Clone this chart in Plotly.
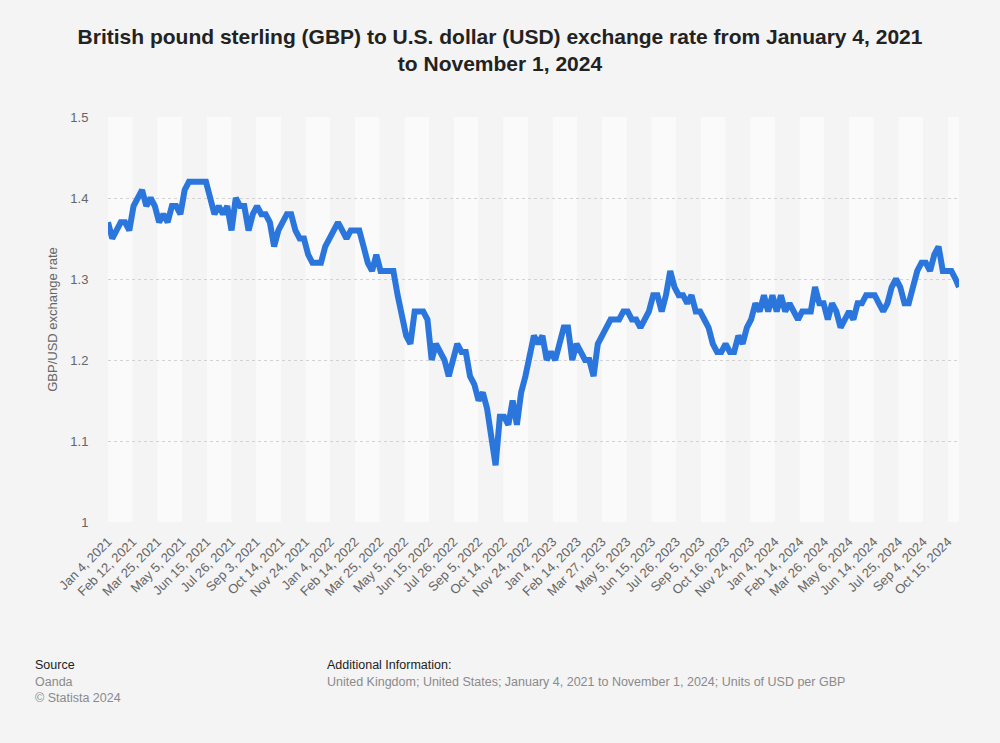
import pandas as pd
import plotly.graph_objects as go

# Weekly readings (every 5th weekday from Jan 4, 2021) plus the final day, Nov 1, 2024
weekly_rates = [
    1.37, 1.35, 1.36, 1.37, 1.37, 1.36, 1.39, 1.40, 1.41, 1.39,
    1.40, 1.39, 1.37, 1.38, 1.37, 1.39, 1.39, 1.38, 1.41, 1.42,
    1.42, 1.42, 1.42, 1.42, 1.40, 1.38, 1.39, 1.38, 1.39, 1.36,
    1.40, 1.39, 1.39, 1.36, 1.38, 1.39, 1.38, 1.38, 1.37, 1.34,
    1.36, 1.37, 1.38, 1.38, 1.36, 1.35, 1.35, 1.33, 1.32, 1.32,
    1.32, 1.34, 1.35, 1.36, 1.37, 1.36, 1.35, 1.36, 1.36, 1.36,
    1.34, 1.32, 1.31, 1.33, 1.31, 1.31, 1.31, 1.31, 1.28, 1.25,
    1.23, 1.22, 1.26, 1.26, 1.26, 1.25, 1.20, 1.22, 1.21, 1.20,
    1.18, 1.20, 1.22, 1.21, 1.21, 1.18, 1.17, 1.15, 1.16, 1.14,
    1.10, 1.07, 1.13, 1.13, 1.12, 1.15, 1.12, 1.16, 1.18, 1.21,
    1.23, 1.22, 1.23, 1.20, 1.21, 1.20, 1.22, 1.24, 1.24, 1.20,
    1.22, 1.21, 1.20, 1.20, 1.18, 1.22, 1.23, 1.24, 1.25, 1.25,
    1.25, 1.26, 1.26, 1.25, 1.25, 1.24, 1.25, 1.26, 1.28, 1.28,
    1.26, 1.28, 1.31, 1.29, 1.28, 1.28, 1.27, 1.28, 1.26, 1.26,
    1.25, 1.24, 1.22, 1.21, 1.21, 1.22, 1.21, 1.21, 1.23, 1.22,
    1.24, 1.25, 1.27, 1.26, 1.28, 1.26, 1.28, 1.26, 1.28, 1.26,
    1.27, 1.26, 1.25, 1.26, 1.26, 1.26, 1.29, 1.27, 1.27, 1.25,
    1.27, 1.26, 1.24, 1.25, 1.26, 1.25, 1.27, 1.27, 1.28, 1.28,
    1.28, 1.27, 1.26, 1.27, 1.29, 1.30, 1.29, 1.27, 1.27, 1.29,
    1.31, 1.32, 1.32, 1.31, 1.33, 1.34, 1.31, 1.31, 1.31, 1.30,
]
final_rate = 1.29

all_days = pd.bdate_range("2021-01-04", "2024-11-01")
dates = list(all_days[::5]) + [all_days[-1]]
rates = weekly_rates + [final_rate]

tick_dates = [
    "2021-01-04", "2021-02-12", "2021-03-25", "2021-05-05", "2021-06-15", "2021-07-26",
    "2021-09-03", "2021-10-14", "2021-11-24", "2022-01-04", "2022-02-14", "2022-03-25",
    "2022-05-05", "2022-06-15", "2022-07-26", "2022-09-05", "2022-10-14", "2022-11-24",
    "2023-01-04", "2023-02-14", "2023-03-27", "2023-05-05", "2023-06-15", "2023-07-26",
    "2023-09-05", "2023-10-16", "2023-11-24", "2024-01-04", "2024-02-14", "2024-03-26",
    "2024-05-06", "2024-06-14", "2024-07-25", "2024-09-04", "2024-10-15",
]
tick_labels = [pd.Timestamp(d).strftime("%b ") + str(pd.Timestamp(d).day) + pd.Timestamp(d).strftime(", %Y") for d in tick_dates]
y_ticks = [1, 1.1, 1.2, 1.3, 1.4, 1.5]
y_tick_labels = ["1", "1.1", "1.2", "1.3", "1.4", "1.5"]

FONT = "Liberation Sans, Arial, Helvetica, sans-serif"

fig = go.Figure()
fig.add_trace(go.Scatter(
    x=dates, y=rates, mode="lines",
    line=dict(color="#2a76dd", width=6),
    hoverinfo="x+y", showlegend=False,
))

end_date = str(all_days[-1].date())
bounds = tick_dates + [end_date]
shapes = []
for i in range(len(tick_dates)):
    shapes.append(dict(
        type="rect", xref="x", yref="paper",
        x0=bounds[i], x1=bounds[i + 1], y0=0, y1=1,
        fillcolor="#fafafa" if i % 2 == 0 else "#f4f4f4",
        line=dict(width=0), layer="below",
    ))

L, T, W, H = 108, 117, 851, 405


def px(xp):
    return (xp - L) / W


def py(yp):
    return (T + H - yp) / H


annotations = [
    dict(text="Source", x=px(33), y=py(665), font=dict(size=12.5, color="#222222")),
    dict(text="Oanda", x=px(33), y=py(682), font=dict(size=12.5, color="#8a8a8a")),
    dict(text="© Statista 2024", x=px(33), y=py(698), font=dict(size=12.5, color="#8a8a8a")),
    dict(text="Additional Information:", x=px(325), y=py(665), font=dict(size=12.5, color="#222222")),
    dict(text="United Kingdom; United States; January 4, 2021 to November 1, 2024; Units of USD per GBP",
         x=px(325), y=py(682), font=dict(size=12.5, color="#8a8a8a")),
]
for a in annotations:
    a.update(xref="paper", yref="paper", xanchor="left", yanchor="middle", showarrow=False)

fig.update_layout(
    width=1000, height=743,
    margin=dict(l=L, r=1000 - L - W, t=T, b=743 - T - H),
    paper_bgcolor="#f4f4f4", plot_bgcolor="#f4f4f4",
    font=dict(family=FONT, color="#666666", size=13),
    title=dict(
        text="<b>British pound sterling (GBP) to U.S. dollar (USD) exchange rate from January 4, 2021<br>to November 1, 2024</b>",
        x=0.5, xanchor="center", y=1 - 44 / 743, yanchor="middle",
        font=dict(family=FONT, size=21, color="#222222"),
    ),
    shapes=shapes,
    annotations=annotations,
    xaxis=dict(
        type="date",
        range=[tick_dates[0], end_date],
        rangebreaks=[dict(bounds=["sat", "mon"])],
        tickmode="array", tickvals=tick_dates, ticktext=tick_labels,
        tickangle=-45, showgrid=False, zeroline=False, showline=False,
        ticks="outside", ticklen=6, tickcolor="rgba(0,0,0,0)",
        tickfont=dict(size=13, color="#666666"),
    ),
    yaxis=dict(
        range=[1, 1.5], tickmode="array", tickvals=y_ticks, ticktext=y_tick_labels,
        showgrid=True, gridcolor="#d2d2d2", griddash="dot", gridwidth=1,
        zeroline=False, showline=False,
        ticks="outside", ticklen=16, tickcolor="rgba(0,0,0,0)",
        tickfont=dict(size=13, color="#666666"),
        title=dict(text="GBP/USD exchange rate", font=dict(size=13, color="#666666"), standoff=9),
    ),
)

fig.write_html(
    "out.html",
    config={"displayModeBar": False},
    post_script="document.body.style.margin='0';document.body.style.background='#f4f4f4';",
)
